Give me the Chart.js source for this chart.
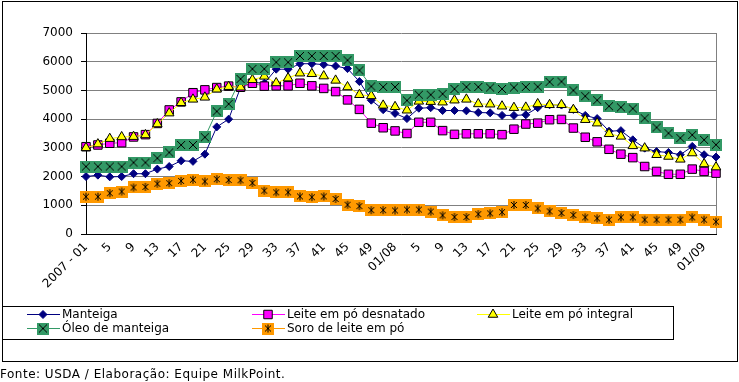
<!DOCTYPE html>
<html>
<head>
<meta charset="utf-8">
<script src="https://cdn.jsdelivr.net/npm/chart.js@4/dist/chart.umd.min.js"></script>
<style>
  html, body { margin: 0; padding: 0; background: #fff; }
  canvas { display: block; }
</style>
</head>
<body>
<canvas id="priceChart" width="739" height="382"></canvas>
<script>
// Weekly prices, every two weeks, 2007-01 .. 2009-03 (US$/t)
const weeks = [
  '2007 - 01', '3', '5', '7', '9', '11', '13', '15', '17', '19', '21', '23', '25',
  '27', '29', '31', '33', '35', '37', '39', '41', '43', '45', '47', '49', '51',
  '01/08', '3', '5', '7', '9', '11', '13', '15', '17', '19', '21', '23', '25',
  '27', '29', '31', '33', '35', '37', '39', '41', '43', '45', '47', '49', '51',
  '01/09', '3'
];

const manteiga = [
  2000, 2050, 1990, 2000, 2100, 2100, 2260, 2350, 2550, 2530, 2780, 3730, 4000,
  5100, 5280, 5250, 5740, 5740, 5930, 5930, 5900, 5850, 5760, 5310, 4660, 4330,
  4200, 4020, 4380, 4400, 4300, 4300, 4290, 4230, 4220, 4130, 4130, 4150, 4400,
  4500, 4490, 4340, 4130, 4020, 3580, 3600, 3280, 2990, 2870, 2840, 2760, 3050,
  2760, 2680
];

const leiteDesnatado = [
  3040, 3100, 3160, 3180, 3380, 3460, 3850, 4320, 4600, 4920, 5020, 5100, 5150,
  5110, 5250, 5150, 5160, 5160, 5250, 5160, 5070, 4960, 4670, 4340, 3860, 3700,
  3590, 3500, 3890, 3890, 3600, 3470, 3490, 3490, 3490, 3460, 3650, 3830, 3860,
  3980, 3990, 3690, 3370, 3210, 2950, 2780, 2660, 2350, 2180, 2080, 2080, 2260,
  2180, 2120
];

const leiteIntegral = [
  3000, 3130, 3320, 3380, 3390, 3450, 3830, 4210, 4570, 4690, 4760, 5040, 5130,
  5110, 5370, 5490, 5260, 5430, 5600, 5580, 5500, 5350, 5120, 4850, 4810, 4480,
  4430, 4310, 4620, 4610, 4590, 4660, 4690, 4530, 4520, 4450, 4400, 4410, 4530,
  4500, 4500, 4330, 3980, 3860, 3490, 3400, 3070, 2990, 2760, 2700, 2600, 2820,
  2440, 2330
];

const oleoManteiga = [
  2350, 2350, 2350, 2350, 2490, 2490, 2640, 2840, 3100, 3100, 3370, 4270, 4530,
  5400, 5750, 5750, 5980, 5980, 6200, 6200, 6200, 6200, 6050, 5700, 5140, 5120,
  5120, 4650, 4850, 4850, 4880, 5050, 5120, 5120, 5100, 5050, 5100, 5120, 5130,
  5300, 5310, 5000, 4800, 4660, 4450, 4410, 4370, 4030, 3710, 3510, 3340, 3450,
  3280, 3110
];

const soroLeite = [
  1300, 1300, 1420, 1480, 1620, 1640, 1750, 1770, 1850, 1890, 1830, 1910, 1880,
  1870, 1780, 1510, 1450, 1450, 1310, 1280, 1310, 1220, 1020, 970, 830, 830,
  820, 850, 850, 780, 650, 590, 590, 690, 720, 760, 1010, 1010, 890, 790, 730,
  660, 580, 545, 500, 580, 580, 500, 500, 500, 500, 580, 500, 430
];

const yTicks = { min: 0, max: 7000, step: 500 };

// square markers with a black symbol inside (Excel style)
function boxMarker(fill, size, symbol) {
  const c = document.createElement('canvas');
  c.width = size;
  c.height = size;
  const g = c.getContext('2d');
  g.fillStyle = fill;
  g.fillRect(0, 0, size, size);
  g.strokeStyle = '#000';
  g.lineWidth = 1;
  g.beginPath();
  const a = 2, b = size - 2;
  if (symbol === 'x') {
    g.moveTo(a, a); g.lineTo(b, b);
    g.moveTo(b, a); g.lineTo(a, b);
  } else {
    const m = size / 2;
    g.moveTo(m, a); g.lineTo(m, b);
    g.moveTo(a + 1, a + 1); g.lineTo(b - 1, b - 1);
    g.moveTo(b - 1, a + 1); g.lineTo(a + 1, b - 1);
  }
  g.stroke();
  return c;
}

const oleoMarker = boxMarker('#339966', 12, 'x');
const soroMarker = boxMarker('#FF9900', 12, '*');

Chart.defaults.font.family = '"DejaVu Sans", Verdana, sans-serif';
Chart.defaults.font.size = 12;
Chart.defaults.color = '#000';

// frame, legend box and source line
const decorations = {
  id: 'decorations',
  beforeDatasetsDraw(chart) {
    const { ctx, chartArea } = chart;
    ctx.save();
    ctx.strokeStyle = '#808080';
    ctx.lineWidth = 1;
    ctx.beginPath();
    ctx.moveTo(Math.round(chartArea.right) + 0.5, chartArea.top);
    ctx.lineTo(Math.round(chartArea.right) + 0.5, chartArea.bottom);
    ctx.stroke();
    ctx.restore();
  },
  afterDraw(chart) {
    const ctx = chart.ctx;
    ctx.save();
    ctx.strokeStyle = '#000';
    ctx.lineWidth = 1;
    ctx.strokeRect(2.5, 1.5, 735, 360);
    ctx.strokeRect(2.5, 306.5, 671, 33);

    const cols = [27, 252, 477];
    const rows = [314, 328];
    const slots = [[0, 0], [1, 0], [2, 0], [0, 1], [1, 1]];
    ctx.font = '12px "DejaVu Sans", Verdana, sans-serif';
    ctx.textBaseline = 'middle';
    chart.data.datasets.forEach((ds, i) => {
      const x = cols[slots[i][0]];
      const y = rows[slots[i][1]];
      ctx.strokeStyle = ds.borderColor;
      ctx.beginPath();
      ctx.moveTo(x, y + 0.5);
      ctx.lineTo(x + 33, y + 0.5);
      ctx.stroke();
      ctx.fillStyle = ds.pointBackgroundColor;
      ctx.strokeStyle = ds.pointBorderColor;
      Chart.helpers.drawPoint(ctx, {
        pointStyle: ds.pointStyle,
        radius: ds.pointRadius,
        rotation: 0,
        borderWidth: ds.pointBorderWidth
      }, x + 16, y + 0.5);
      ctx.fillStyle = '#000';
      ctx.fillText(ds.label, x + 35, y + 1);
    });

    ctx.font = '12px "DejaVu Sans", Verdana, sans-serif';
    ctx.letterSpacing = '0.5px';
    ctx.textBaseline = 'alphabetic';
    ctx.fillText('Fonte: USDA / Elaboração: Equipe MilkPoint.', 0, 378);
    ctx.restore();
  }
};

function series(label, data, color, style, radius, fill, border, order) {
  return {
    label: label,
    data: data,
    borderColor: color,
    backgroundColor: color,
    borderWidth: 1,
    pointStyle: style,
    pointRadius: radius,
    pointBackgroundColor: fill,
    pointBorderColor: border,
    pointBorderWidth: 1,
    tension: 0,
    order: order
  };
}

new Chart(document.getElementById('priceChart'), {
  type: 'line',
  data: {
    labels: weeks,
    datasets: [
      series('Manteiga', manteiga, '#000080', 'rectRot', 4, '#000080', '#000080', 5),
      series('Leite em pó desnatado', leiteDesnatado, '#FF00FF', 'rect', 6, '#FF00FF', '#000', 4),
      series('Leite em pó integral', leiteIntegral, '#FFFF00', 'triangle', 5.5, '#FFFF00', '#000', 3),
      series('Óleo de manteiga', oleoManteiga, '#339966', oleoMarker, 6, '#339966', '#339966', 2),
      series('Soro de leite em pó', soroLeite, '#FF9900', soroMarker, 6, '#FF9900', '#FF9900', 1)
    ]
  },
  options: {
    responsive: false,
    devicePixelRatio: 1,
    animation: false,
    layout: {
      padding: { top: 33, right: 23, bottom: 78, left: 0 }
    },
    plugins: {
      legend: { display: false },
      tooltip: { enabled: false }
    },
    scales: {
      x: {
        grid: { display: false, drawTicks: false },
        border: { color: '#000' },
        afterFit: function(scale) { scale.height = 70; },
        ticks: {
          autoSkip: false,
          maxRotation: 45,
          minRotation: 45,
          padding: 6,
          callback: function(value, index) {
            return index % 2 === 0 ? this.getLabelForValue(value) : '';
          }
        }
      },
      y: {
        min: yTicks.min,
        max: yTicks.max,
        afterFit: function(scale) { scale.width = 86; },
        grid: { color: '#808080', tickColor: '#000', tickLength: 5 },
        border: { color: '#000' },
        ticks: {
          stepSize: yTicks.step,
          padding: 8,
          callback: function(value) { return String(value); }
        }
      }
    }
  },
  plugins: [decorations]
});
</script>
</body>
</html>
